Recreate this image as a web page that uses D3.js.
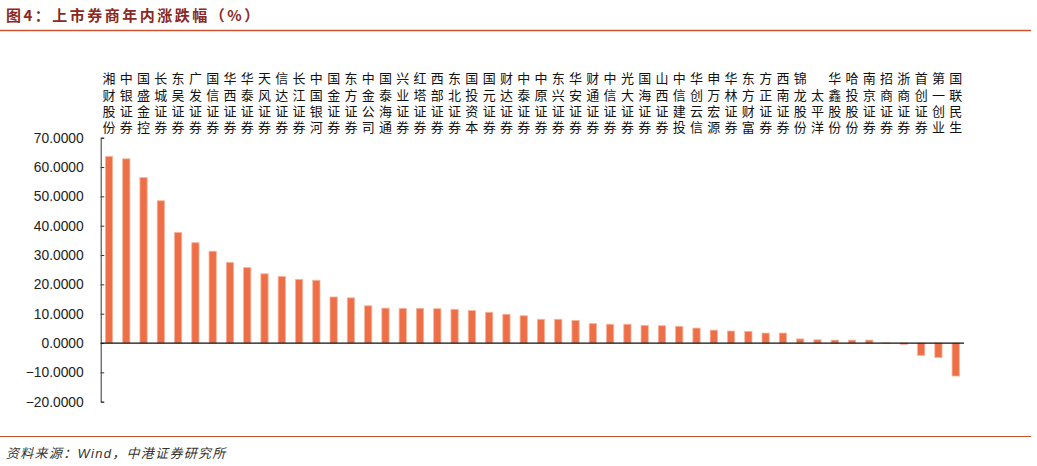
<!DOCTYPE html>
<html>
<head>
<meta charset="utf-8">
<script src="https://cdn.jsdelivr.net/npm/d3@7"></script>
<style>
  body { margin: 0; background: #fff; }
  svg { display: block; }
</style>
</head>
<body>
<div id="chart"></div>
<script>
const width = 1037;
const height = 466;

// 券商名称 + 年内涨跌幅（%）
const names = ["湘财股份", "中银证券", "国盛金控", "长城证券", "东吴证券", "广发证券", "国信证券", "华西证券",
  "华泰证券", "天风证券", "信达证券", "长江证券", "中国银河", "国金证券", "东方证券", "中金公司",
  "国泰海通", "兴业证券", "红塔证券", "西部证券", "东北证券", "国投资本", "国元证券", "财达证券",
  "中泰证券", "中原证券", "东兴证券", "华安证券", "财通证券", "中信证券", "光大证券", "国海证券",
  "山西证券", "中信建投", "华创云信", "申万宏源", "华林证券", "东方财富", "方正证券", "西南证券",
  "锦龙股份", "太平洋", "华鑫股份", "哈投股份", "南京证券", "招商证券", "浙商证券", "首创证券",
  "第一创业", "国联民生"];
const changes = [63.6, 62.8, 56.4, 48.5, 37.7, 34.2, 31.3, 27.5,
  25.7, 23.6, 22.7, 21.7, 21.4, 15.7, 15.4, 12.7,
  11.9, 11.8, 11.8, 11.7, 11.5, 11.1, 10.5, 9.8,
  9.3, 8.1, 8.1, 7.7, 6.6, 6.4, 6.4, 6.0,
  5.9, 5.7, 5.1, 4.4, 4.1, 4.0, 3.4, 3.4,
  1.4, 1.1, 1.0, 1.0, 1.0, 0.05, -0.45, -4.2,
  -4.9, -11.25];
const yTicks = [-20, -10, 0, 10, 20, 30, 40, 50, 60, 70];

const title = "图4：上市券商年内涨跌幅（%）";
const source = "资料来源：Wind，中港证券研究所";

const svg = d3.select("#chart")
  .append("svg")
    .attr("width", width)
    .attr("height", height);

// 标题与分隔线
svg.append("text")
  .attr("x", 6)
  .attr("y", 21)
  .attr("font-family", "'Noto Sans CJK SC', sans-serif")
  .attr("font-size", 15)
  .attr("font-weight", "bold")
  .attr("letter-spacing", 2.5)
  .attr("fill", "#8a2a22")
  .text(title);

svg.append("line")
  .attr("x1", 0).attr("x2", 1031)
  .attr("y1", 30.5).attr("y2", 30.5)
  .attr("stroke", "#c9542e")
  .attr("stroke-width", 1.5);

svg.append("line")
  .attr("x1", 0).attr("x2", 1031)
  .attr("y1", 436.5).attr("y2", 436.5)
  .attr("stroke", "#c9542e")
  .attr("stroke-width", 1.2);

svg.append("text")
  .attr("x", 6)
  .attr("y", 458)
  .attr("font-family", "'Liberation Sans', 'Noto Sans CJK SC', sans-serif")
  .attr("font-size", 13)
  .attr("font-style", "italic")
  .attr("letter-spacing", 1.3)
  .attr("fill", "#333")
  .text(source);

const xScale = d3.scaleBand()
  .domain(names)
  .range([100.7, 964])
  .paddingInner(0.58)
  .paddingOuter(0.27);

const yScale = d3.scaleLinear()
  .domain([-20, 70])
  .range([401.7, 137.7]);

// 柱子
svg.append("g")
  .selectAll("rect")
  .data(names)
  .join("rect")
    .attr("x", d => xScale(d))
    .attr("width", xScale.bandwidth())
    .attr("y", (d, i) => yScale(Math.max(0, changes[i])))
    .attr("height", (d, i) => Math.abs(yScale(changes[i]) - yScale(0)))
    .attr("fill", "#ee6f47")
    .attr("stroke", "#f5b59c")
    .attr("stroke-width", 0.8);

// y 轴
const yAxis = svg.append("g")
  .attr("class", "y-axis")
  .attr("transform", "translate(100.7,0)")
  .call(d3.axisLeft(yScale)
    .tickValues(yTicks)
    .tickSize(-3.5)
    .tickPadding(17)
    .tickFormat(d3.format(".4f")));

yAxis.select(".domain").attr("stroke", "#333");
yAxis.selectAll(".tick line").attr("stroke", "#333");
yAxis.selectAll(".tick text")
  .attr("font-family", "'Liberation Sans', Arial, sans-serif")
  .attr("font-size", 13.8)
  .attr("fill", "#222");

// 零线
svg.append("line")
  .attr("x1", 100.7).attr("x2", 964)
  .attr("y1", yScale(0)).attr("y2", yScale(0))
  .attr("stroke", "#111")
  .attr("stroke-width", 1.3);

// 竖排类目标签（底部对齐）
svg.append("g")
  .selectAll("text")
  .data(names)
  .join("text")
    .attr("x", d => xScale(d) + xScale.bandwidth() / 2)
    .attr("y", 137)
    .attr("writing-mode", "vertical-rl")
    .attr("text-anchor", "end")
    .attr("font-family", "'Noto Sans CJK SC', sans-serif")
    .attr("font-size", 13)
    .attr("letter-spacing", 3.3)
    .attr("fill", "#111")
    .text(d => d);
</script>
</body>
</html>
